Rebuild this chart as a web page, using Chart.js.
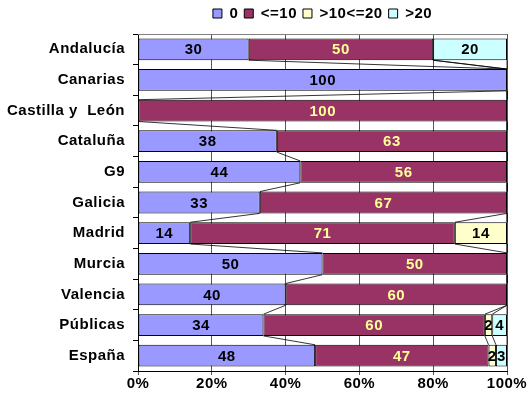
<!DOCTYPE html>
<html>
<head>
<meta charset="utf-8">
<script src="https://cdn.jsdelivr.net/npm/chart.js@4/dist/chart.umd.min.js"></script>
<style>
  html, body { margin: 0; padding: 0; background: #fff; }
  #wrap { width: 530px; height: 401px; }
</style>
</head>
<body>
<div id="wrap"><canvas id="chart" width="530" height="401"></canvas></div>
<script>
// categories and raw values
const categories = ['Andalucía', 'Canarias', 'Castilla y  León', 'Cataluña', 'G9', 'Galicia',
  'Madrid', 'Murcia', 'Valencia', 'Públicas', 'España'];
const seriesNames = ['0', '<=10', '>10<=20', '>20'];
const zero   = [30, 100, 0, 38, 44, 33, 14, 50, 40, 34, 48];
const upTo10 = [50, 0, 100, 63, 56, 67, 71, 50, 60, 60, 47];
const to20   = [0, 0, 0, 0, 0, 0, 14, 0, 0, 2, 2];
const over20 = [20, 0, 0, 0, 0, 0, 0, 0, 0, 4, 3];
const xTicks = [0, 20, 40, 60, 80, 100];

const fills = ['#9999FF', '#993366', '#FFFFCC', '#CCFFFF'];
const labelColors = ['#000000', '#FFFF99', '#000000', '#000000'];
const raw = [zero, upTo10, to20, over20];

// 100% stacked: normalise each row
const totals = categories.map((c, i) => raw.reduce((s, r) => s + r[i], 0));
const pct = raw.map(r => r.map((v, i) => v / totals[i] * 100));

const fontFam = '"Liberation Sans", Arial, sans-serif';

// Excel-style series lines + value labels
const extras = {
  id: 'extras',
  beforeInit(chart) {
    // a little more room under the legend
    const fit = chart.legend.fit;
    chart.legend.fit = function () { fit.call(this); this.height += 3; };
  },
  beforeLayout(chart) { chart.ctx.letterSpacing = '0.5px'; },
  afterLayout(chart) {
    // centre the legend over the plot area, like Excel
    chart.legend.left = chart.chartArea.left;
    chart.legend.right = chart.chartArea.right;
  },
  beforeDraw(chart) { chart.ctx.letterSpacing = '0.5px'; },
  beforeDatasetsDraw(chart) {
    const ctx = chart.ctx, a = chart.chartArea;
    ctx.save();
    ctx.strokeStyle = '#808080';
    ctx.lineWidth = 1;
    ctx.beginPath();
    ctx.moveTo(a.left, a.top + 0.5);
    ctx.lineTo(a.right, a.top + 0.5);
    ctx.stroke();
    ctx.restore();
  },
  afterDatasetsDraw(chart) {
    const ctx = chart.ctx;
    ctx.save();
    ctx.strokeStyle = '#000';
    ctx.lineWidth = 0.8;
    chart.data.datasets.forEach((ds, d) => {
      const els = chart.getDatasetMeta(d).data;
      for (let i = 0; i < els.length - 1; i++) {
        const e1 = els[i], e2 = els[i + 1];
        ctx.beginPath();
        ctx.moveTo(e1.x, e1.y + e1.height / 2);
        ctx.lineTo(e2.x, e2.y - e2.height / 2);
        ctx.stroke();
      }
    });
    ctx.font = 'bold 15px ' + fontFam;
    ctx.textAlign = 'center';
    ctx.textBaseline = 'middle';
    chart.data.datasets.forEach((ds, d) => {
      const els = chart.getDatasetMeta(d).data;
      els.forEach((el, i) => {
        const v = raw[d][i];
        if (!v) return;
        ctx.fillStyle = labelColors[d];
        ctx.fillText(String(v), (el.x + el.base) / 2, el.y + 1);
      });
    });
    ctx.restore();
  }
};

new Chart(document.getElementById('chart').getContext('2d'), {
  type: 'bar',
  data: {
    labels: categories,
    datasets: seriesNames.map((name, d) => ({
      label: name,
      data: pct[d],
      backgroundColor: fills[d],
      borderColor: '#000',
      borderWidth: 1,
      borderSkipped: false,
      barPercentage: 0.71,
      categoryPercentage: 1
    }))
  },
  options: {
    indexAxis: 'y',
    responsive: false,
    animation: false,
    layout: { padding: { left: 0, right: 23, top: 0, bottom: 8 } },
    plugins: {
      tooltip: { enabled: false },
      legend: {
        position: 'top',
        labels: {
          boxWidth: 9, boxHeight: 9, padding: 6,
          color: '#000',
          font: { family: fontFam, size: 15, weight: 'bold' }
        }
      }
    },
    scales: {
      x: {
        stacked: true, min: 0, max: 100,
        afterBuildTicks(axis) { axis.ticks = xTicks.map(v => ({ value: v })); },
        afterFit(axis) { axis.paddingRight = 0; },
        ticks: {
          callback: v => v + '%',
          color: '#000', padding: 0,
          font: { family: fontFam, size: 15, weight: 'bold' }
        },
        grid: { color: '#555', lineWidth: 1, tickLength: 4, drawTicks: true },
        border: { color: '#000' }
      },
      y: {
        stacked: true,
        afterFit(axis) { axis.width = 138; },
        ticks: {
          color: '#000', padding: 8,
          font: { family: fontFam, size: 15, weight: 'bold' }
        },
        grid: { drawOnChartArea: false, color: '#000', tickLength: 5 },
        border: { color: '#000' }
      }
    }
  },
  plugins: [extras]
});
</script>
</body>
</html>
